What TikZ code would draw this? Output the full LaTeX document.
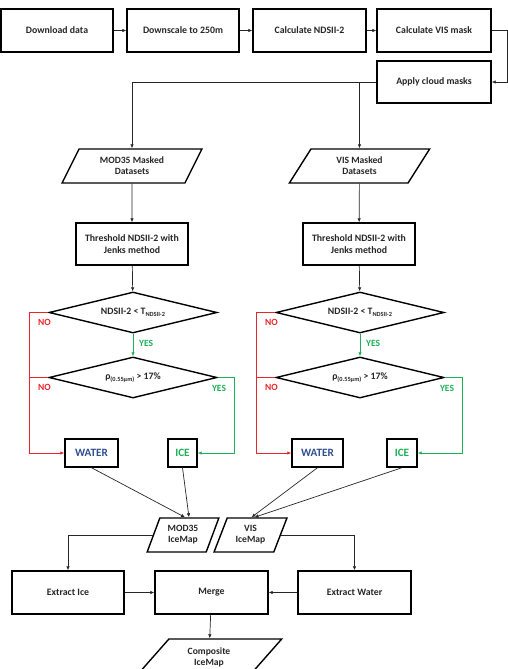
\documentclass[tikz,border=0pt]{standalone}
\usepackage{fontspec}
\setmainfont{Carlito}
\usetikzlibrary{shapes.geometric,arrows.meta}
\definecolor{txt}{HTML}{262626}
\definecolor{nored}{HTML}{E8262A}
\definecolor{yesgreen}{HTML}{1DB157}
\definecolor{waterblue}{HTML}{2F4F8F}
\tikzset{
  box/.style={draw=black, line width=1.4pt, rectangle, minimum height=43pt, inner sep=1pt, align=center, font=\bfseries\fontsize{9.8}{11.5}\selectfont, text=txt},
  para/.style={draw=black, line width=1.4pt, trapezium, trapezium stretches=true, trapezium left angle=60, trapezium right angle=120, minimum height=34pt, inner sep=0pt, align=center, font=\bfseries\fontsize{9.6}{11}\selectfont, text=txt},
  dia/.style={draw=black, line width=1.4pt, diamond, aspect=4.1, minimum width=168pt, minimum height=41pt, inner sep=0pt, align=center, font=\bfseries\fontsize{9.8}{11}\selectfont, text=txt},
  small/.style={draw=black, line width=1.4pt, rectangle, minimum height=28pt, inner sep=0pt, font=\bfseries\fontsize{11.2}{13}\selectfont},
  conn/.style={line width=0.7pt, draw=black!85, -{Latex[length=4pt,width=3.5pt]}},
  noline/.style={line width=0.8pt, draw=nored},
  yesline/.style={line width=0.8pt, draw=yesgreen},
  lab/.style={font=\bfseries\fontsize{9.5}{11}\selectfont, inner sep=0pt},
  sub/.style={},
}
\newcommand{\mysub}[1]{\raisebox{-0.45ex}{\fontsize{6.3}{7}\selectfont #1}}
\begin{document}
\begin{tikzpicture}[x=1pt,y=-1pt]
\useasboundingbox (0,0) rectangle (508,669);
% top row
\node[box, minimum width=112pt] (dl) at (57,30.5) {Download data};
\node[box, minimum width=112pt] (ds) at (183,30.5) {Downscale to 250m};
\node[box, minimum width=113pt] (nd) at (309.5,30.5) {Calculate NDSII-2};
\node[box, minimum width=114pt] (vm) at (434,30.5) {Calculate VIS mask};
\node[box, minimum width=114pt, minimum height=42pt] (ac) at (434,82) {Apply cloud masks};
\draw[conn] (dl) -- (ds);
\draw[conn] (ds) -- (nd);
\draw[conn] (nd) -- (vm);
\draw[conn] (vm.east) -- ++(16,0) |- (ac.east);
% masked datasets
\node[para, minimum width=140pt] (m35) at (132,166) {MOD35 Masked\\Datasets};
\node[para, minimum width=141pt] (vism) at (359.5,166) {VIS Masked\\Datasets};
\draw[conn] (ac.west) -| (m35.north);
\draw[conn] (vism.north |- ac.west) -- (vism.north);
% threshold
\node[box, minimum width=112pt, minimum height=42pt] (th1) at (132,244) {Threshold NDSII-2 with\\Jenks method};
\node[box, minimum width=112pt, minimum height=42pt] (th2) at (359,244) {Threshold NDSII-2 with\\Jenks method};
\draw[conn] (m35) -- (th1);
\draw[conn] (vism) -- (th2);
% diamonds
\node[dia] (d1a) at (133,312.5) {NDSII-2 < T\mysub{NDSII-2}};
\node[dia] (d1b) at (133,377.5) {ρ\mysub{(0.55μm)} > 17\%};
\node[dia] (d2a) at (360,312.5) {NDSII-2 < T\mysub{NDSII-2}};
\node[dia] (d2b) at (360,377.5) {ρ\mysub{(0.55μm)} > 17\%};
\draw[conn] (th1) -- (d1a);
\draw[conn] (th2) -- (d2a);
% result boxes
\node[small, minimum width=53pt, text=waterblue] (w1) at (91.5,453) {WATER};
\node[small, minimum width=29pt, text=yesgreen] (i1) at (182.5,453) {ICE};
\node[small, minimum width=51pt, text=waterblue] (w2) at (317.5,453) {WATER};
\node[small, minimum width=30pt, text=yesgreen] (i2) at (402,453) {ICE};
% left branch
\draw[yesline, -{Latex[length=4pt,width=3.5pt]}] (d1a.south) -- (d1b.north);
\draw[noline, -{Latex[length=4pt,width=3.5pt]}] (d1a.west) -- ++(-19,0) coordinate (n1) |- (w1.west);
\draw[noline] (d1b.west) -- (d1b.west -| n1);
\draw[yesline, -{Latex[length=4pt,width=3.5pt]}] (d1b.east) -- ++(17,0) |- (i1.east);
\node[lab, text=nored] (no1) at (44.5,322.5) {NO};
\node[lab, text=nored] (no2) at (44.5,387.5) {NO};
\node[lab, text=yesgreen, anchor=west] (yes1) at (139,343) {YES};
\node[lab, text=yesgreen] (yes2) at (219,388.5) {YES};
% right branch
\draw[yesline, -{Latex[length=4pt,width=3.5pt]}] (d2a.south) -- (d2b.north);
\draw[noline, -{Latex[length=4pt,width=3.5pt]}] (d2a.west) -- ++(-19,0) coordinate (n2) |- (w2.west);
\draw[noline] (d2b.west) -- (d2b.west -| n2);
\draw[yesline, -{Latex[length=4pt,width=3.5pt]}] (d2b.east) -- ++(18,0) |- (i2.east);
\node[lab, text=nored] (no3) at (271.5,322.5) {NO};
\node[lab, text=nored] (no4) at (271.5,387.5) {NO};
\node[lab, text=yesgreen, anchor=west] (yes3) at (366,343) {YES};
\node[lab, text=yesgreen] (yes4) at (447,388.5) {YES};
% icemaps
\node[para, trapezium left angle=66, trapezium right angle=114, minimum width=72pt] (mi) at (183,535) {MOD35\\IceMap};
\node[para, trapezium left angle=66, trapezium right angle=114, minimum width=73pt] (vi) at (250.5,535) {VIS\\IceMap};
\draw[conn] (w1.south) -- ([xshift=2pt]mi.north);
\draw[conn] (i1.south) -- ([xshift=6pt]mi.north);
\draw[conn] (w2.south) -- ([xshift=1pt]vi.north);
\draw[conn] (i2.south) -- ([xshift=4pt]vi.north);
% bottom row
\node[box, minimum width=112pt] (ei) at (68,592.5) {Extract Ice};
\node[box, minimum width=113pt] (mg) at (211.5,592.5) {Merge};
\node[box, minimum width=113pt] (ew) at (354.5,592.5) {Extract Water};
\draw[conn] (mi.west) -| (ei.north);
\draw[conn] (vi.east) -| (ew.north);
\draw[conn] (ei) -- (mg);
\draw[conn] (ew) -- (mg);
\node[para, trapezium left angle=48, trapezium right angle=132, minimum width=146pt, minimum height=37pt] (cp) at (209,657.5) {Composite\\IceMap};
\draw[conn] (mg) -- (cp);
\end{tikzpicture}
\end{document}
